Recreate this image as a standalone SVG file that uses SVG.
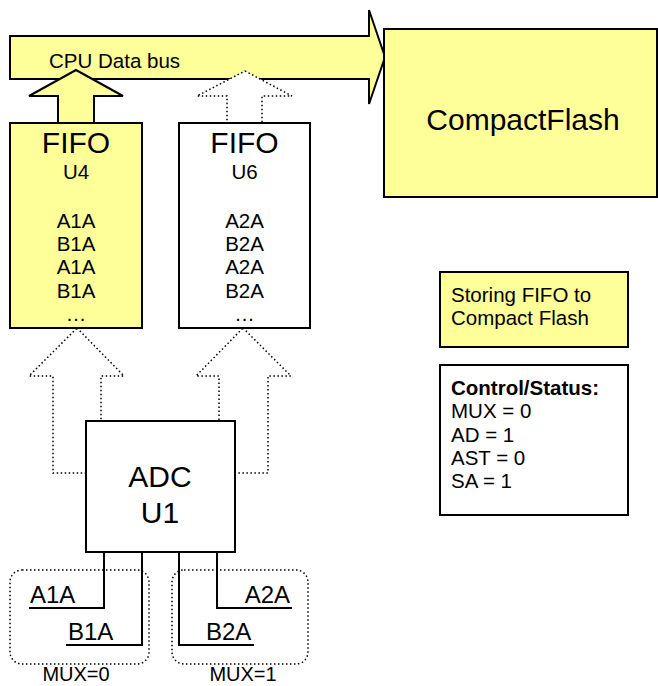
<svg xmlns="http://www.w3.org/2000/svg" width="658" height="686" viewBox="0 0 658 686">
<style>
text{font-family:"Liberation Sans",Arial,sans-serif;fill:#000}
.box{stroke:#000;stroke-width:2}
.y{fill:#FFFF99}
.w{fill:#fff}
.dot{fill:#fff;stroke:#000;stroke-width:1.5;stroke-dasharray:1.5 2.5}
.wire{fill:none;stroke:#000;stroke-width:2}
.big{font-size:30px}
.mid{font-size:20.5px}
.lab{font-size:24px}
.mux{font-size:20px}
</style>
<g id="cpu-bus">
<polygon class="box y" points="10,36 369,36 369,10 385,57 369,104 369,79 10,79"/>
<text class="mid" x="49" y="68">CPU Data bus</text>
</g>
<g id="connectors">
<polygon class="box y" points="76,70 123,96 94,96 94,123 58,123 58,96 29,96"/>
<polygon class="dot" points="245,71 292,96 262,96 262,123 227,123 227,96 197,96"/>
<polygon class="dot" points="77,328 124,376 101,376 101,440 110,440 110,473 53,473 53,376 29,376"/>
<polygon class="dot" points="243,328 291,376 268,376 268,473 210,473 210,440 219,440 219,376 196,376"/>
<path class="wire" d="M104,552 V608 H29 M142,552 V645 H66 M179,552 V645 H254 M217,552 V608 H292"/>
</g>
<g id="compactflash">
<rect class="box y" x="384" y="29" width="273" height="168"/>
<text class="big" x="523" y="130" text-anchor="middle">CompactFlash</text>
</g>
<g id="fifo-u4">
<rect class="box y" x="10" y="123" width="132" height="205"/>
<g class="mid" text-anchor="middle">
<text class="big" x="76" y="153">FIFO</text>
<text x="76" y="179">U4</text>
<text x="76" y="228">A1A</text>
<text x="76" y="251">B1A</text>
<text x="76" y="274">A1A</text>
<text x="76" y="298">B1A</text>
<text x="76" y="321">…</text>
</g>
</g>
<g id="fifo-u6">
<rect class="box w" x="179" y="123" width="131" height="205"/>
<g class="mid" text-anchor="middle">
<text class="big" x="244.5" y="153">FIFO</text>
<text x="244.5" y="179">U6</text>
<text x="244.5" y="228">A2A</text>
<text x="244.5" y="251">B2A</text>
<text x="244.5" y="274">A2A</text>
<text x="244.5" y="298">B2A</text>
<text x="244.5" y="321">…</text>
</g>
</g>
<g id="adc-u1">
<rect class="box w" x="86" y="421" width="149" height="131"/>
<text class="big" x="160" y="487" text-anchor="middle">ADC</text>
<text class="big" x="160" y="523" text-anchor="middle">U1</text>
</g>
<g id="mux0">
<rect class="dot" style="fill:none" x="10" y="570" width="139" height="94" rx="12"/>
<text class="lab" x="30" y="603">A1A</text>
<text class="lab" x="68" y="640">B1A</text>
<text class="mux" x="76" y="681" text-anchor="middle">MUX=0</text>
</g>
<g id="mux1">
<rect class="dot" style="fill:none" x="172" y="570" width="136" height="94" rx="12"/>
<text class="lab" x="290" y="603" text-anchor="end">A2A</text>
<text class="lab" x="206" y="640">B2A</text>
<text class="mux" x="243" y="681" text-anchor="middle">MUX=1</text>
</g>
<g id="storing-note">
<rect class="box y" x="440" y="272" width="188" height="75"/>
<text class="mid" x="451" y="302">Storing FIFO to</text>
<text class="mid" x="451" y="325">Compact Flash</text>
</g>
<g id="control-status">
<rect class="box w" x="440" y="365" width="188" height="150"/>
<text class="mid" x="451" y="395" font-weight="bold">Control/Status:</text>
<text class="mid" x="451" y="418">MUX = 0</text>
<text class="mid" x="451" y="442">AD = 1</text>
<text class="mid" x="451" y="465">AST = 0</text>
<text class="mid" x="451" y="488">SA = 1</text>
</g>
</svg>
